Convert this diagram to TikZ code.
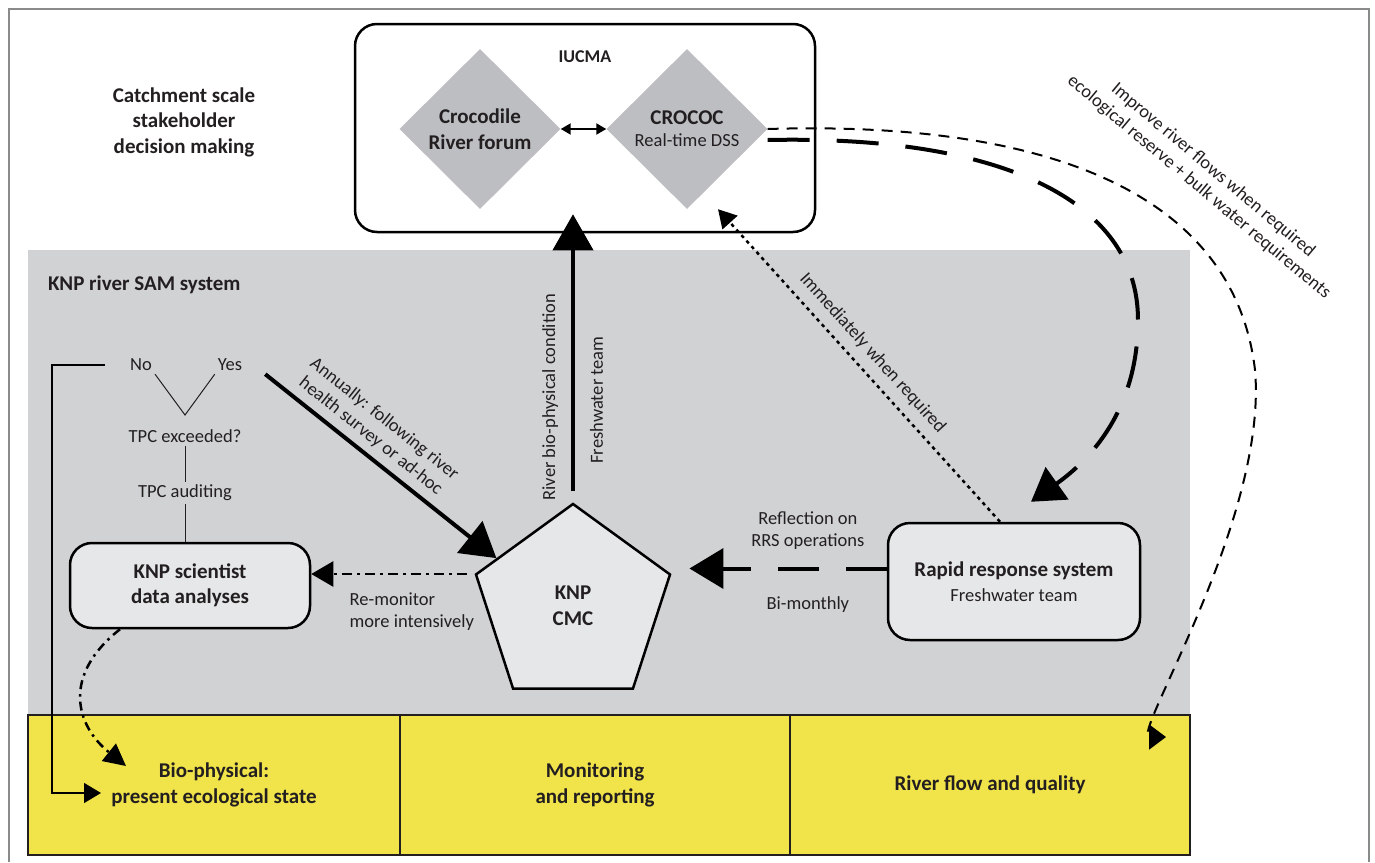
\documentclass[tikz,border=0pt]{standalone}
\usepackage{fontspec}
\setmainfont{Carlito}
\usetikzlibrary{arrows.meta,positioning,calc,shapes.geometric}

\definecolor{panelgray}{HTML}{D1D2D4}
\definecolor{boxgray}{HTML}{E6E7E8}
\definecolor{diagray}{HTML}{BCBEC2}
\definecolor{cellyellow}{HTML}{F1E44B}
\definecolor{framegray}{HTML}{8A8A8A}
\definecolor{ink}{HTML}{231F20}
\newcommand{\fnorm}{\fontsize{18.5}{22}\selectfont}
\newcommand{\fbold}{\fontsize{21}{25.5}\selectfont\bfseries}

\begin{document}
\begin{tikzpicture}[
  x=1pt, y=-1pt,
  every node/.style={font=\fnorm, text=ink, inner sep=3pt},
  heading/.style={font=\fbold, align=center},
  rbox/.style={draw=black, line width=2.5pt, rounded corners=22pt,
               fill=boxgray, inner sep=0pt, align=center},
  dia/.style={diamond, fill=diagray, inner sep=0pt, minimum width=161pt,
              minimum height=160pt, align=center},
  cell/.style={draw=ink, line width=1.3pt, fill=cellyellow, minimum height=140pt,
               inner sep=0pt, font=\fbold, align=center},
  stem/.style={draw=ink, line width=1pt},
  side/.style={rotate=90, outer sep=12pt},
  bigtip/.style={-{Triangle[length=34pt,width=40pt]}},
]
\useasboundingbox (0,0) rectangle (1375,862);
\draw[framegray, line width=2pt] (9,862) -- (9,9) -- (1369,9) -- (1369,862);

% lower layers
\node[fill=panelgray, minimum width=1162pt, minimum height=465pt, inner sep=0pt,
      label={[font=\fbold, anchor=north west, xshift=17pt, yshift=-23pt]north west:KNP river SAM system}]
      (sam) at (609,482.5) {};
\node[cell, minimum width=372pt] (bio) at (214,785) {Bio-physical:\\present ecological state};
\node[cell, minimum width=390pt] (mon) at (595,785) {Monitoring\\and reporting};
\node[cell, minimum width=400pt] (flow) at (990,785) {River flow and quality};

% catchment level
\node[heading] (catch) at (184,122) {Catchment scale\\stakeholder\\decision making};
\node[rbox, fill=white, minimum width=460pt, minimum height=208pt,
      label={[font=\fontsize{18}{22}\selectfont\bfseries, anchor=north, yshift=-25pt]north:IUCMA}]
      (iucma) at (585,128) {};
\node[dia, font=\fbold] (forum) at (480,129) {Crocodile\\River forum};
\node[dia] (crococ) at (687,129) {{\fbold CROCOC}\\Real-time DSS};
\draw[{Triangle[length=10pt,width=11pt]}-{Triangle[length=10pt,width=11pt]}, line width=2pt]
  (forum) -- (crococ);

% TPC loop
\node (no) at (141,365) {No};
\node (yes) at (230,365) {Yes};
\node (exceed) at (185,436) {TPC exceeded?};
\node (audit) at (185,493) {TPC auditing};
\coordinate (vtip) at (185,415);
\draw[stem] (no.south east) -- (vtip) -- (yes.south west);
\draw[stem] (exceed) -- (audit);
\node[rbox, minimum width=240pt, minimum height=85pt, font=\fbold] (sci) at (190,585.5)
  {KNP scientist\\data analyses};
\draw[stem] (audit.south) -- (audit.south |- sci.north);

\node[regular polygon, regular polygon sides=5, draw=black, line width=2.5pt, fill=boxgray,
      minimum size=204pt, inner sep=0pt, font=\fbold, align=center] (cmc) at (573,606) {KNP\\CMC};
\node[rbox, minimum width=252pt, minimum height=117pt] (rrs) at (1014,581.5)
  {{\fbold Rapid response system}\\[3pt]Freshwater team};

% connectors
\coordinate (bioin) at (101,793);
\draw[line width=1.5pt, -{Triangle[length=17pt,width=20pt]}]
  ([xshift=-22pt]no.west) -| ([xshift=-49pt]bioin) -- (bioin);
\coordinate (biotip) at (126,766);
\draw[line width=2.5pt, dash pattern=on 9pt off 5pt on 2.5pt off 5pt,
      -{Triangle[length=22pt,width=22pt]}]
  ([xshift=-70pt]sci.south) .. controls (62,675) and (75,725) .. (biotip);

\draw[line width=4pt, bigtip] ([xshift=20pt]yes.south east) -- (cmc.148)
  node[sloped, above=4pt, pos=0.41, align=center] {Annually: following river\\health survey or ad-hoc};

\draw[line width=4pt, -{Triangle[length=36pt,width=40pt]}]
  ([yshift=11pt]cmc.north) -- ($(cmc.north |- iucma.south)+(0,-19)$)
  node[side, pos=0.34, anchor=south] {River bio-physical condition}
  node[side, pos=0.33, anchor=north, outer sep=14pt] {Freshwater team};

\draw[line width=2.5pt, dash pattern=on 10pt off 5pt on 3pt off 5pt,
      -{Triangle[length=22pt,width=25pt]}]
  ([xshift=-8pt]cmc.162) -- (cmc.162 -| sci.east)
  node[pos=0.78, anchor=north west, align=left, yshift=-15pt] {Re-monitor\\more intensively};

\coordinate (rrsout) at ([yshift=13pt]rrs.west);
\draw[line width=4pt, dash pattern=on 41pt off 27pt, bigtip]
  (rrsout) -- ($(rrsout -| cmc.18)+(18,0)$)
  node[pos=0.4, above=14pt, align=center] {Reflection on\\RRS operations}
  node[pos=0.4, below=23pt] {Bi-monthly};

\draw[line width=2.5pt, dash pattern=on 3.5pt off 4pt, -{Triangle[length=18pt,width=20pt]}]
  ([xshift=-14pt]rrs.north) -- ([xshift=31pt]crococ.south)
  node[sloped, above=6pt, pos=0.5] {Immediately when required};

\draw[line width=4pt, dash pattern=on 42pt off 27pt, -{Triangle[length=32pt,width=39pt]}]
  ([yshift=-11pt]crococ.east) .. controls (1000,135) and (1138,200) .. (1138,320)
  .. controls (1138,410) and (1090,460) .. ([xshift=17pt,yshift=20pt]rrs.north);

\coordinate (flowtip) at (1166,737);
\draw[line width=2pt, dash pattern=on 11pt off 8pt, -{Triangle[length=17pt,width=25pt]}]
  (crococ.east) .. controls (1060,120) and (1235,200) .. (1255,370)
  .. controls (1268,520) and (1130,737) .. (flowtip);
\node[rotate=-40, align=center] (flowlbl) at (1206,179)
  {Improve river flows when required\\ecological reserve + bulk water requirements};
\end{tikzpicture}
\end{document}
